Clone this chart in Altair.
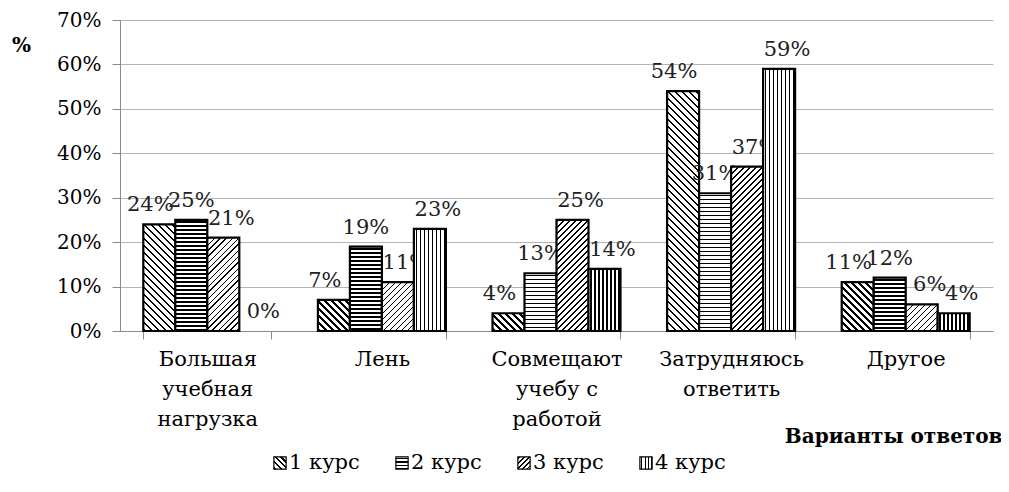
import altair as alt
import pandas as pd

# ---------------- data ----------------
categories = ["Большая\nучебная\nнагрузка", "Лень", "Совмещают\nучебу с\nработой",
              "Затрудняюсь\nответить", "Другое"]
series = ["1 курс", "2 курс", "3 курс", "4 курс"]
kurs1 = [24, 7, 4, 54, 11]
kurs2 = [25, 19, 13, 31, 12]
kurs3 = [21, 11, 25, 37, 6]
kurs4 = [0, 23, 14, 59, 4]
y_ticks = [0, 0.1, 0.2, 0.3, 0.4, 0.5, 0.6, 0.7]

all_vals = [kurs1, kurs2, kurs3, kurs4]
rows = []
for si, s in enumerate(series):
    for ci, c in enumerate(categories):
        rows.append({"cat": c, "series": s, "v": all_vals[si][ci] / 100.0,
                     "key": f"{si}_{ci}"})
df = pd.DataFrame(rows)
ldf = pd.DataFrame({"series": series})

# ---------------- geometry / style ----------------
W, H, YMAX = 873, 311, 0.7
P_IN = 0.267
STEP = W / len(categories)
BAR_W = STEP * (1 - P_IN) / len(series)
FONT = "DejaVu Serif"
FS = 21
GRID = "#b4b4b4"
AXC = "#8a8a8a"
LABEL_DX = [-9, 0, 8, 8]


def stripes(total, period, thick, offset=0.0):
    stops = [(0.0, "white")]
    pos = offset
    while pos < total:
        a = pos / total
        b = min((pos + thick) / total, 1.0)
        stops += [(a, "white"), (a, "black"), (b, "black"), (b, "white")]
        pos += period
    stops.append((1.0, "white"))
    return [alt.GradientStop(color=c, offset=round(o, 5)) for o, c in stops]


def pattern(si, w, h, scale=1.0):
    if si == 0:  # \\\ lines
        k = (w + h) / (w * w + h * h)
        return alt.LinearGradient(gradient="linear", x1=0, y1=1, x2=k * w, y2=1 - k * h,
                                  stops=stripes(w + h, 7 * scale, 2.6 * scale, 1.0))
    if si == 1:  # horizontal lines
        return alt.LinearGradient(gradient="linear", x1=0, y1=0, x2=0, y2=1,
                                  stops=stripes(h, 4 * scale, 1.6 * scale, 1.5 * scale))
    if si == 2:  # /// lines
        k = (w + h) / (w * w + h * h)
        return alt.LinearGradient(gradient="linear", x1=0, y1=0, x2=k * w, y2=k * h,
                                  stops=stripes(w + h, 6 * scale, 1.9 * scale, 1.0))
    return alt.LinearGradient(gradient="linear", x1=0, y1=0, x2=1, y2=0,
                              stops=stripes(w, 4 * scale, 1.4 * scale, 1.8 * scale))


X = alt.X("cat:N", sort=categories,
          scale=alt.Scale(domain=categories, paddingInner=P_IN, paddingOuter=P_IN / 2),
          title="Варианты ответов",
          axis=alt.Axis(labelExpr="split(datum.label, '\\n')", labelAngle=0,
                        labelFont=FONT, labelFontSize=FS, labelLineHeight=30,
                        labelColor="black", labelPadding=9, labelBaseline="top",
                        tickBand="extent", tickSize=8, tickColor=AXC, domainColor=AXC,
                        grid=False, titleFont=FONT, titleFontSize=20, titleFontWeight="bold",
                        titleColor="black", titleX=882, titleY=105, titleAlign="right",
                        titleBaseline="middle"))
XO = alt.XOffset("series:N", sort=series, scale=alt.Scale(domain=series))
Y = alt.Y("v:Q", scale=alt.Scale(domain=[0, YMAX], nice=False), title="%",
          axis=alt.Axis(format=".0%", values=y_ticks, labelFont=FONT, labelFontSize=20,
                        labelColor="black", labelPadding=11, tickSize=8, tickColor=AXC,
                        domainColor=AXC, grid=True, gridColor=GRID, titleFont=FONT,
                        titleFontSize=20, titleFontWeight="bold", titleColor="black",
                        titleAngle=0, titleX=-99, titleY=25, titleAlign="center",
                        titleBaseline="middle"))

layers = []
for si, s in enumerate(series):
    for ci, c in enumerate(categories):
        v = all_vals[si][ci] / 100.0
        if v <= 0:
            continue
        h = v / YMAX * H
        layers.append(
            alt.Chart(df).transform_filter(alt.datum.key == f"{si}_{ci}")
            .mark_bar(fill=pattern(si, BAR_W, h), stroke="black", strokeWidth=2.2)
            .encode(x=X, xOffset=XO, y=Y)
        )
    layers.append(
        alt.Chart(df).transform_filter(alt.datum.series == s)
        .mark_text(font=FONT, fontSize=FS, dy=-13, dx=LABEL_DX[si], baseline="alphabetic",
                   align="center", color="#222")
        .encode(x=X, xOffset=XO, y=Y, text=alt.Text("v:Q", format=".0%"))
    )
main = alt.layer(*layers)

LX = alt.X("series:N", sort=series,
           scale=alt.Scale(type="point", domain=series, range=[160, 526], padding=0),
           axis=None)
LEG_Y = 443
leg_layers = []
for si, s in enumerate(series):
    leg_layers.append(
        alt.Chart(ldf).transform_filter(alt.datum.series == s)
        .mark_square(size=150, fill=pattern(si, 12, 12, 0.8), stroke="black",
                     strokeWidth=1.2, opacity=1)
        .encode(x=LX, y=alt.value(LEG_Y))
    )
leg_layers.append(
    alt.Chart(ldf).mark_text(font=FONT, fontSize=FS, align="left", baseline="middle",
                             dx=9, color="black")
    .encode(x=LX, y=alt.value(LEG_Y), text="series:N")
)
legend = alt.layer(*leg_layers)

chart = (
    alt.layer(main, legend)
    .resolve_scale(x="independent")
    .properties(width=W, height=H, autosize=alt.AutoSizeParams(type="none"),
                padding={"left": 112, "top": 12, "right": 8, "bottom": 148},
                background="white")
    .configure_view(stroke=None)
)

chart.save("out.html", embed_options={"renderer": "svg", "actions": False})
